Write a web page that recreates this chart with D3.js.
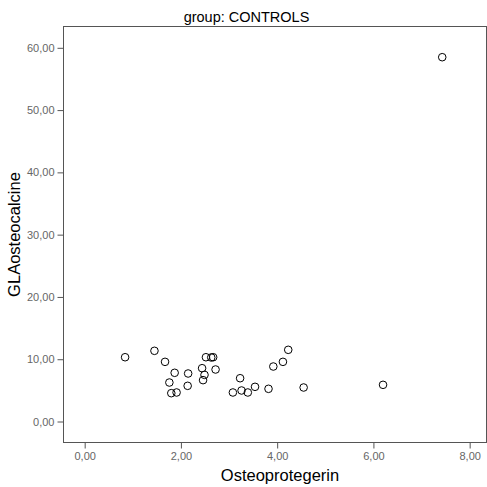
<!DOCTYPE html>
<html>
<head>
<meta charset="utf-8">
<script src="https://cdn.jsdelivr.net/npm/d3@7"></script>
<style>
  body { margin: 0; background: #fff; }
  svg { display: block; font-family: Arial, "Liberation Sans", sans-serif; }
</style>
</head>
<body>
<div id="chart"></div>
<script>
// values
var osteoprotegerin = [0.84, 1.45, 1.67, 1.87, 1.76, 1.80, 1.91, 2.15, 2.14, 2.44, 2.49, 2.46,
    2.52, 2.63, 2.67, 2.72, 3.08, 3.23, 3.26, 3.39, 3.54, 3.82, 3.92, 4.12, 4.23, 4.55, 6.20, 7.43]
var glaOsteocalcine = [10.32, 11.35, 9.58, 7.82, 6.26, 4.55, 4.66, 7.71, 5.73, 8.56, 7.49, 6.64,
    10.32, 10.28, 10.32, 8.35, 4.66, 6.95, 4.98, 4.66, 5.57, 5.25, 8.83, 9.58, 11.51, 5.46, 5.89, 58.49]
var xTicks = [0, 2, 4, 6, 8]
var yTicks = [0, 10, 20, 30, 40, 50, 60]

var width = 487, height = 487
var margin = {left: 63.5, right: 0.5, top: 26.5, bottom: 44.5}

var svg = d3.select("#chart").append("svg")
    .attr("width", width)
    .attr("height", height)

var x = d3.scaleLinear().domain([-0.44, 8.35]).range([margin.left, width - margin.right])
var y = d3.scaleLinear().domain([-3.37, 63.42]).range([height - margin.bottom, margin.top])

var fmt = function(d) { return d3.format(".2f")(d).replace(".", ",") }

// frame
svg.append("rect")
    .attr("x", margin.left)
    .attr("y", margin.top)
    .attr("width", width - margin.left - margin.right)
    .attr("height", height - margin.top - margin.bottom)
    .attr("fill", "none")
    .attr("stroke", "#555")
    .attr("stroke-width", 1)

var xAxis = svg.append("g")
    .attr("transform", "translate(0," + (height - margin.bottom) + ")")
    .call(d3.axisBottom(x).tickValues(xTicks).tickFormat(fmt).tickSize(6).tickPadding(4))
var yAxis = svg.append("g")
    .attr("transform", "translate(" + margin.left + ",0)")
    .call(d3.axisLeft(y).tickValues(yTicks).tickFormat(fmt).tickSize(6).tickPadding(3))

;[xAxis, yAxis].forEach(function(g) {
    g.select(".domain").remove()
    g.selectAll(".tick line").attr("stroke", "#555")
    g.selectAll(".tick text")
        .attr("fill", "#666")
        .style("font-size", "11px")
        .style("font-family", "Arial, 'Liberation Sans', sans-serif")
})

// points
svg.append("g").selectAll("circle")
    .data(osteoprotegerin.map(function(d, i) { return {x: d, y: glaOsteocalcine[i]} }))
    .enter().append("circle")
    .attr("cx", function(d) { return x(d.x) })
    .attr("cy", function(d) { return y(d.y) })
    .attr("r", 3.8)
    .attr("fill", "none")
    .attr("stroke", "#000")
    .attr("stroke-width", 1)

// titles
svg.append("text")
    .attr("x", 246.5)
    .attr("y", 21.5)
    .attr("text-anchor", "middle")
    .style("font-size", "14.5px")
    .text("group: CONTROLS")

svg.append("text")
    .attr("x", 280)
    .attr("y", 481)
    .attr("text-anchor", "middle")
    .style("font-size", "16.5px")
    .text("Osteoprotegerin")

svg.append("text")
    .attr("transform", "translate(20," + ((margin.top + height - margin.bottom) / 2) + ")rotate(-90)")
    .attr("text-anchor", "middle")
    .style("font-size", "16.5px")
    .text("GLAosteocalcine")
</script>
</body>
</html>
